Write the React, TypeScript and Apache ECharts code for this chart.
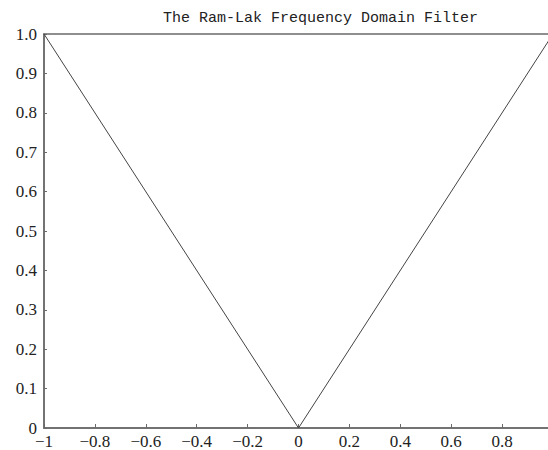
import React, { useEffect, useRef } from "react";
import * as echarts from "echarts";

const titleText = "The Ram-Lak Frequency Domain Filter";
const freq = [-1, 0, 0.984];
const response = [1, 0, 0.984];

const fmtX = (v: number) => {
  const r = Math.round(v * 10) / 10;
  if (r >= 1) return "";
  if (r === 0) return "0";
  if (r === -1) return "\u22121";
  return (r < 0 ? "\u2212" : "") + Math.abs(r).toFixed(1);
};
const fmtY = (v: number) => {
  const r = Math.round(v * 10) / 10;
  if (r === 0) return "0";
  return r.toFixed(1);
};

export default function App() {
  const ref = useRef<HTMLDivElement>(null);
  useEffect(() => {
    if (!ref.current) return;
    const chart = echarts.init(ref.current, null, { renderer: "svg" });
    const axisColor = "#6a6a6a";
    chart.setOption({
      animation: false,
      backgroundColor: "#ffffff",
      title: {
        text: titleText,
        left: 158,
        top: 6,
        textStyle: {
          fontFamily: "Liberation Mono",
          fontSize: 15,
          fontWeight: "normal",
          color: "#222",
        },
      },
      grid: {
        left: 44,
        top: 34,
        right: 0,
        bottom: 22,
        show: true,
        borderColor: axisColor,
        borderWidth: 1.5,
        containLabel: false,
      },
      xAxis: {
        type: "value",
        min: -1,
        max: 1,
        interval: 0.2,
        splitLine: { show: false },
        axisLine: { show: true, onZero: false, lineStyle: { color: axisColor, width: 1.5 } },
        axisTick: { show: true, inside: true, length: 4, lineStyle: { color: axisColor } },
        axisLabel: {
          formatter: fmtX,
          margin: 5,
          fontFamily: "Liberation Serif",
          fontSize: 17,
          color: "#222",
          showMaxLabel: false,
        },
      },
      yAxis: {
        type: "value",
        min: 0,
        max: 1,
        interval: 0.1,
        splitLine: { show: false },
        axisLine: { show: true, onZero: false, lineStyle: { color: axisColor, width: 1.5 } },
        axisTick: { show: true, inside: true, length: 3, lineStyle: { color: axisColor } },
        axisLabel: {
          formatter: fmtY,
          margin: 7,
          fontFamily: "Liberation Serif",
          fontSize: 17,
          color: "#222",
          padding: [0, 0, 6, 0],
        },
      },
      series: [
        {
          type: "line",
          data: freq.map((f, i) => [f, response[i]]),
          symbol: "none",
          lineStyle: { color: "#444", width: 1 },
          clip: false,
        },
      ],
    });
    return () => chart.dispose();
  }, []);
  return (
    <div
      ref={ref}
      style={{ position: "fixed", left: 0, top: 0, width: 553, height: 450, background: "#fff" }}
    />
  );
}
